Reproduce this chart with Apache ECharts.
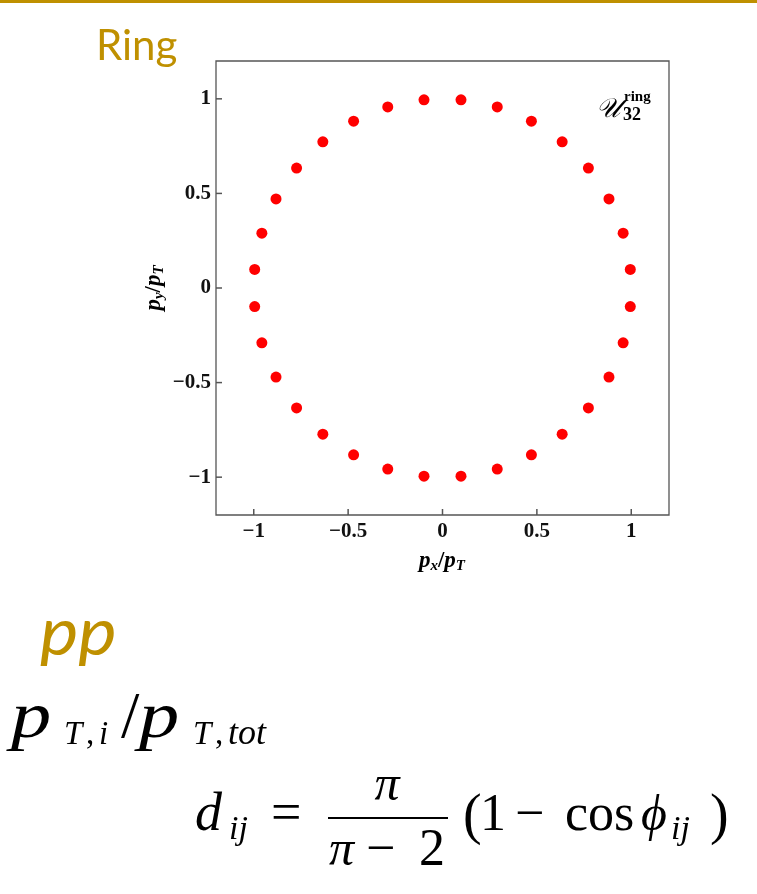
<!DOCTYPE html>
<html>
<head>
<meta charset="utf-8">
<script src="https://cdn.jsdelivr.net/npm/echarts@6/dist/echarts.min.js"></script>
<style>
  html, body { margin: 0; padding: 0; background: #ffffff; }
  #chart { width: 757px; height: 894px; }
</style>
</head>
<body>
<div id="chart"></div>
<script>
// 32 particles evenly spread on the unit ring (transverse momentum components)
const pxValues = [
   0.995,  0.957,  0.882,  0.773,  0.634,  0.471,  0.290,  0.098,
  -0.098, -0.290, -0.471, -0.634, -0.773, -0.882, -0.957, -0.995,
  -0.995, -0.957, -0.882, -0.773, -0.634, -0.471, -0.290, -0.098,
   0.098,  0.290,  0.471,  0.634,  0.773,  0.882,  0.957,  0.995
];
const pyValues = [
   0.098,  0.290,  0.471,  0.634,  0.773,  0.882,  0.957,  0.995,
   0.995,  0.957,  0.882,  0.773,  0.634,  0.471,  0.290,  0.098,
  -0.098, -0.290, -0.471, -0.634, -0.773, -0.882, -0.957, -0.995,
  -0.995, -0.957, -0.882, -0.773, -0.634, -0.471, -0.290, -0.098
];
const xTickValues = [-1, -0.5, 0, 0.5, 1];
const yTickValues = [-1, -0.5, 0, 0.5, 1];
const AXIS_MIN = -1.2;
const AXIS_MAX = 1.2;

const GOLD = '#BF9000';
const SERIF = '"Liberation Serif", "DejaVu Serif", serif';
const SANS = 'Lato, "Open Sans", sans-serif';
const FRAME = '#555555';
const TICK_LEN = 6;
const TICK_W = 1.5;

const measureCtx = document.createElement('canvas').getContext('2d');
function fontString(p) {
  return (p.style || 'normal') + ' ' + (p.weight || 'normal') + ' ' + p.size + 'px ' + (p.family || SERIF);
}
// distance between the canvas 'middle' line and the alphabetic baseline
function middleOffset(font) {
  measureCtx.font = font;
  measureCtx.textBaseline = 'alphabetic';
  const a = measureCtx.measureText('x').actualBoundingBoxDescent;
  measureCtx.textBaseline = 'middle';
  const b = measureCtx.measureText('x').actualBoundingBoxDescent;
  measureCtx.textBaseline = 'alphabetic';
  return b - a;
}
function advance(p) {
  measureCtx.font = fontString(p);
  return measureCtx.measureText(p.t).width;
}
// One text piece, placed by its left edge (or centre) and its baseline;
// sx widens a glyph horizontally from its left edge
function piece(p) {
  const font = fontString(p);
  const off = middleOffset(font);
  return {
    type: 'text',
    x: p.x,
    y: p.base,
    scaleX: p.sx || 1,
    silent: true,
    style: {
      text: p.t,
      x: 0,
      y: -off,
      font: font,
      fill: p.color || '#000',
      textAlign: p.align || 'left',
      textVerticalAlign: 'middle'
    }
  };
}
// A run of pieces laid out one after another, centred on cx
function centredRun(parts, cx, base) {
  const widths = parts.map(advance);
  const total = widths.reduce((a, b) => a + b, 0);
  let x = cx - total / 2;
  return parts.map((p, i) => {
    const el = piece(Object.assign({}, p, { x: x, base: base + (p.dy || 0) }));
    x += widths[i];
    return el;
  });
}

function tickText(v) {
  return String(v).replace('-', '\u2212');
}

const axisLabelStyle = {
  fontFamily: SERIF,
  fontWeight: 'bold',
  fontSize: 21,
  color: '#111'
};

const axisNameParts = (sub) => [
  { t: 'p', size: 23, style: 'italic', weight: 'bold' },
  { t: sub, size: 15, style: 'italic', weight: 'bold', dy: 3 },
  { t: '/', size: 23, weight: 'bold' },
  { t: 'p', size: 23, style: 'italic', weight: 'bold' },
  { t: 'T', size: 15, style: 'italic', weight: 'bold', dy: 3 }
];

const graphics = [
  // gold rule along the top edge
  { type: 'rect', shape: { x: 0, y: 0, width: 757, height: 3 }, style: { fill: GOLD }, silent: true },
  piece({ t: 'Ring', x: 96, base: 60, size: 42, family: SANS, color: GOLD }),
  piece({ t: 'pp', x: 40, base: 655, size: 66, sx: 1.1, family: SANS, style: 'italic', color: GOLD }),

  // p_{T,i} / p_{T,tot}
  piece({ t: 'p', x: 11, base: 737, size: 66, sx: 1.22, style: 'italic' }),
  piece({ t: 'T', x: 64, base: 744, size: 33, style: 'italic' }),
  piece({ t: ',', x: 86, base: 744, size: 33 }),
  piece({ t: 'i', x: 99, base: 744, size: 33, style: 'italic' }),
  piece({ t: '/', x: 121, base: 737, size: 66 }),
  piece({ t: 'p', x: 139, base: 737, size: 66, sx: 1.22, style: 'italic' }),
  piece({ t: 'T', x: 193, base: 744, size: 33, style: 'italic' }),
  piece({ t: ',', x: 215, base: 744, size: 33 }),
  piece({ t: 'tot', x: 228, base: 744, size: 36, style: 'italic' }),

  // d_ij = pi / (pi - 2) (1 - cos phi_ij)
  piece({ t: 'd', x: 195, base: 830, size: 54, style: 'italic' }),
  piece({ t: 'ij', x: 229, base: 839, size: 34, style: 'italic' }),
  piece({ t: '=', x: 271, base: 830, size: 54 }),
  { type: 'rect', shape: { x: 328, y: 817, width: 120, height: 2 }, style: { fill: '#000' }, silent: true },
  piece({ t: '\u03c0', x: 387, base: 800, size: 50, style: 'italic', align: 'center' }),
  piece({ t: '\u03c0', x: 329, base: 865, size: 50, style: 'italic' }),
  piece({ t: '\u2212', x: 366, base: 865, size: 52 }),
  piece({ t: '2', x: 419, base: 865, size: 52 }),
  piece({ t: '(', x: 463, base: 833, size: 56 }),
  piece({ t: '1', x: 480, base: 830, size: 52 }),
  piece({ t: '\u2212', x: 515, base: 830, size: 52 }),
  piece({ t: 'cos', x: 565, base: 830, size: 52 }),
  piece({ t: '\u03d5', x: 641, base: 830, size: 50, style: 'italic' }),
  piece({ t: 'ij', x: 671, base: 839, size: 34, style: 'italic' }),
  piece({ t: ')', x: 710, base: 833, size: 56 }),

  // panel tag
  piece({ t: '\ud835\udcb0', x: 596, base: 117, size: 27, family: '"DejaVu Serif", "DejaVu Sans", serif', style: 'italic' }),
  piece({ t: 'ring', x: 624, base: 101, size: 15, weight: 'bold' }),
  piece({ t: '32', x: 623, base: 120, size: 18, weight: 'bold' })
];

// x-axis title
graphics.push.apply(graphics, centredRun(axisNameParts('x'), 442, 567));
// y-axis title, rotated to read upwards
graphics.push({
  type: 'group',
  x: 155,
  y: 288,
  rotation: Math.PI / 2,
  children: centredRun(axisNameParts('y'), 0, 5)
});

const chart = echarts.init(document.getElementById('chart'), null, { renderer: 'canvas' });
chart.setOption({
  animation: false,
  backgroundColor: '#ffffff',
  grid: {
    left: 216, top: 61, width: 453, height: 454,
    show: true, borderColor: FRAME, borderWidth: 1.3, backgroundColor: 'transparent'
  },
  xAxis: {
    type: 'value', min: AXIS_MIN, max: AXIS_MAX, position: 'bottom',
    axisLine: { show: false, onZero: false },
    splitLine: { show: false },
    axisTick: { show: false },
    axisLabel: Object.assign({ customValues: xTickValues, margin: 6, formatter: tickText }, axisLabelStyle)
  },
  yAxis: {
    type: 'value', min: AXIS_MIN, max: AXIS_MAX, position: 'left',
    axisLine: { show: false, onZero: false },
    splitLine: { show: false },
    axisTick: { show: false },
    axisLabel: Object.assign({ customValues: yTickValues, margin: 5, formatter: tickText }, axisLabelStyle)
  },
  series: [{
    type: 'scatter',
    data: pxValues.map((x, i) => [x, pyValues[i]]),
    symbol: 'circle',
    symbolSize: 11,
    itemStyle: { color: '#FF0000', opacity: 1 },
    z: 3
  }],
  graphic: { elements: graphics }
});

// inward frame ticks on the bottom and left edges, placed through the grid's coordinate system
const ticks = [];
xTickValues.forEach((v) => {
  const pt = chart.convertToPixel({ gridIndex: 0 }, [v, AXIS_MIN]);
  if (pt && isFinite(pt[0]) && isFinite(pt[1])) {
    ticks.push({ type: 'rect', silent: true, z: 100,
      shape: { x: pt[0] - TICK_W / 2, y: pt[1] - TICK_LEN, width: TICK_W, height: TICK_LEN },
      style: { fill: FRAME } });
  }
});
yTickValues.forEach((v) => {
  const pt = chart.convertToPixel({ gridIndex: 0 }, [AXIS_MIN, v]);
  if (pt && isFinite(pt[0]) && isFinite(pt[1])) {
    ticks.push({ type: 'rect', silent: true, z: 100,
      shape: { x: pt[0], y: pt[1] - TICK_W / 2, width: TICK_LEN, height: TICK_W },
      style: { fill: FRAME } });
  }
});
chart.setOption({ graphic: { elements: graphics.concat(ticks) } });
</script>
</body>
</html>
